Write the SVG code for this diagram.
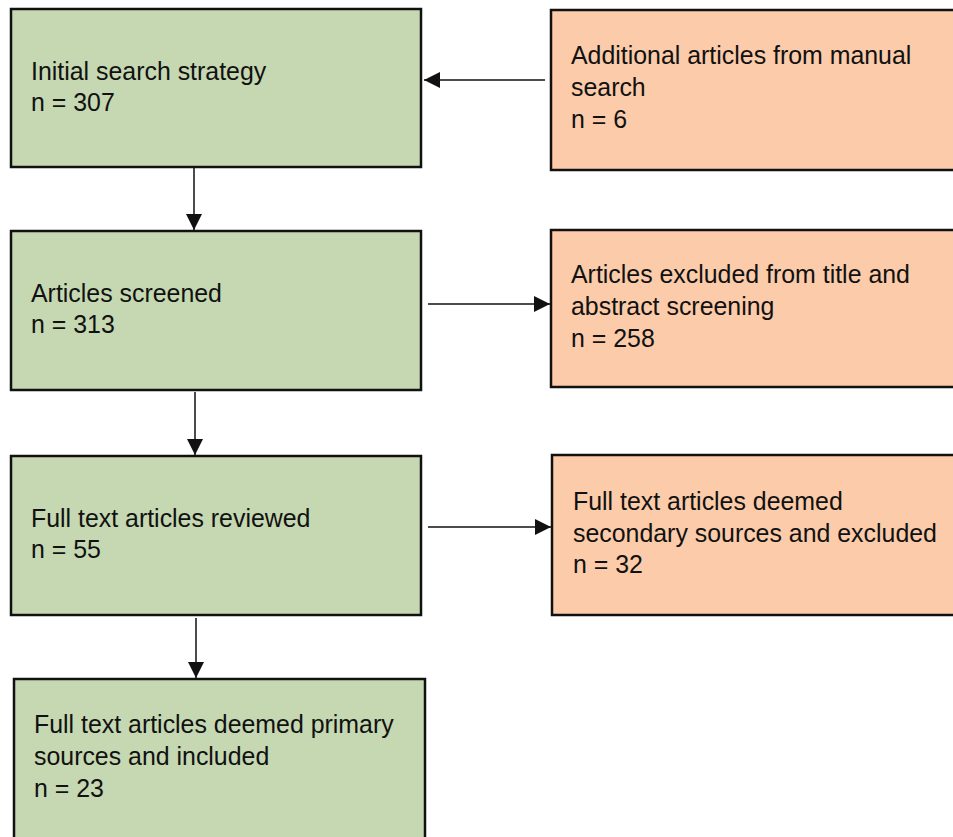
<svg xmlns="http://www.w3.org/2000/svg" width="953" height="837" viewBox="0 0 953 837">
<defs>
<style>
.box{stroke:#111;stroke-width:2.5}
.g{fill:#c5d8b2}
.o{fill:#fccba9}
text{font-family:"Liberation Sans",Arial,sans-serif;font-size:24.9px;fill:#111}
.c{stroke:#111;stroke-width:1.5;fill:none}
</style>
<marker id="ahb" markerWidth="16" markerHeight="16" viewBox="0 0 16 16" refX="16" refY="8" orient="auto" markerUnits="userSpaceOnUse">
<path d="M0,0 L16,8 L0,16 Z" fill="#111"/>
</marker>
</defs>
<rect width="953" height="837" fill="#fff"/>
<g id="n1"><rect class="box g" x="11" y="9" width="410" height="158"/><text x="31" y="80">Initial search strategy</text><text x="31" y="111">n = 307</text></g>
<g id="m1"><rect class="box o" x="551" y="10" width="410" height="160"/><text x="571" y="64">Additional articles from manual</text><text x="571" y="96">search</text><text x="571" y="128">n = 6</text></g>
<g id="n2"><rect class="box g" x="11" y="231" width="410" height="159"/><text x="31" y="302">Articles screened</text><text x="31" y="333">n = 313</text></g>
<g id="x1"><rect class="box o" x="551" y="230" width="410" height="157"/><text x="571" y="283">Articles excluded from title and</text><text x="571" y="315">abstract screening</text><text x="571" y="347">n = 258</text></g>
<g id="n3"><rect class="box g" x="11" y="456" width="410" height="159"/><text x="31" y="527">Full text articles reviewed</text><text x="31" y="558">n = 55</text></g>
<g id="x2"><rect class="box o" x="552" y="455" width="410" height="160"/><text x="573" y="510">Full text articles deemed</text><text x="573" y="542">secondary sources and excluded</text><text x="573" y="573">n = 32</text></g>
<g id="n4"><rect class="box g" x="14" y="679" width="411" height="170"/><text x="34" y="733">Full text articles deemed primary</text><text x="34" y="765">sources and included</text><text x="34" y="797">n = 23</text></g>
<g id="connectors">
<line class="c" x1="545" y1="80" x2="424" y2="80" marker-end="url(#ahb)"/>
<line class="c" x1="194" y1="168" x2="194" y2="230" marker-end="url(#ahb)"/>
<line class="c" x1="428" y1="304" x2="550" y2="304" marker-end="url(#ahb)"/>
<line class="c" x1="195" y1="392" x2="195" y2="455" marker-end="url(#ahb)"/>
<line class="c" x1="428" y1="527" x2="551" y2="527" marker-end="url(#ahb)"/>
<line class="c" x1="196" y1="618" x2="196" y2="678" marker-end="url(#ahb)"/>
</g>
</svg>
